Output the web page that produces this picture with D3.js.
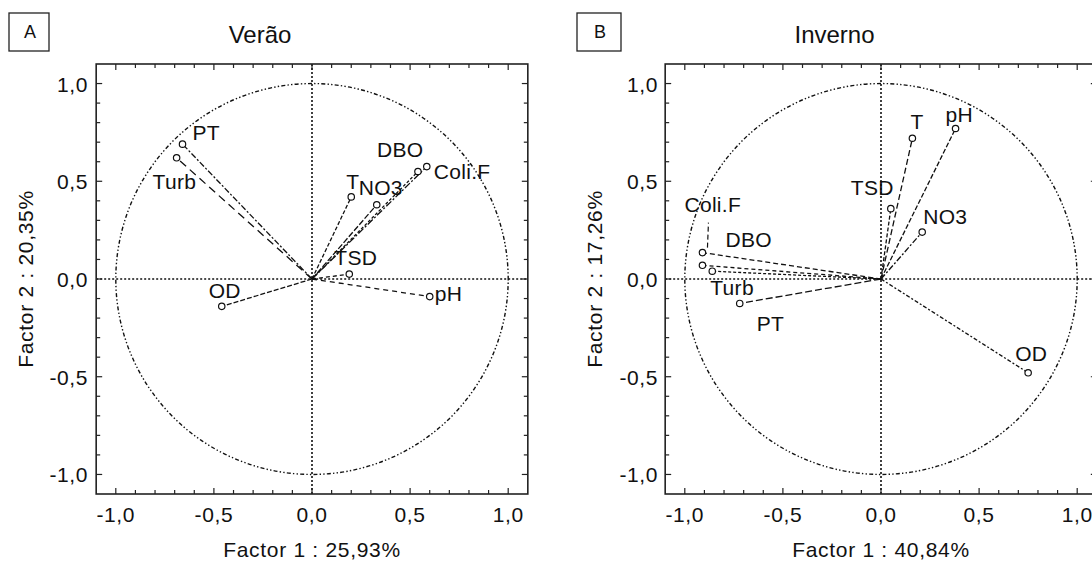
<!DOCTYPE html>
<html><head><meta charset="utf-8">
<script src="https://cdn.jsdelivr.net/npm/d3@7"></script>
<style>
html,body{margin:0;padding:0;background:#fff;}
text{font-family:"Liberation Sans",Arial,sans-serif;fill:#111;}
</style></head>
<body>
<svg id="chart" width="1092" height="561"></svg>
<script>
// ---- data ----
const variablesA = ["PT","Turb","T","NO3","DBO","Coli.F","TSD","pH","OD"];
const factor1A   = [-0.66,-0.69,0.20,0.33,0.54,0.585,0.19,0.60,-0.46];
const factor2A   = [ 0.69, 0.62,0.42,0.38,0.55,0.575,0.025,-0.09,-0.14];

const variablesB = ["T","pH","TSD","NO3","Coli.F","DBO","Turb","PT","OD"];
const factor1B   = [0.16,0.38,0.05,0.21,-0.91,-0.91,-0.86,-0.72,0.75];
const factor2B   = [0.72,0.77,0.36,0.24,0.135,0.07,0.04,-0.125,-0.48];

const tickValues = [-1.0,-0.5,0.0,0.5,1.0];
const tickLabels = ["-1,0","-0,5","0,0","0,5","1,0"];
const minorTicks = d3.range(-10,11).map(i=>i/10);

const panels = [
  {letter:"A", title:"Verão",   xTitle:"Factor 1 : 25,93%", yTitle:"Factor 2 : 20,35%",
   names:variablesA, f1:factor1A, f2:factor2A,
   cx:312, titleX:260, boxX:9, boxW:40, yTitleX:33, yTickX:88,
   dashes:{"PT":"6,2,2,2","Turb":"8,5","T":"4,2","NO3":"6,2","DBO":"3,2","Coli.F":"7,2,2,2","TSD":"4,3","pH":"5,4","OD":"5,2"},
   offsets:{"PT":[10,-4],"Turb":[-24,31],"T":[-5,-8],"NO3":[-18,-10],"DBO":[-41,-15],"Coli.F":[7,12],"TSD":[-15,-9],"pH":[5,4],"OD":[-13,-8]}},
  {letter:"B", title:"Inverno", xTitle:"Factor 1 : 40,84%", yTitle:"Factor 2 : 17,26%",
   names:variablesB, f1:factor1B, f2:factor2B,
   cx:881, titleX:834.5, boxX:577, boxW:44, yTitleX:602, yTickX:658,
   dashes:{"T":"6,3","pH":"5,2","TSD":"4,2","NO3":"6,2,2,2","Coli.F":"5,3","DBO":"4,3","Turb":"3,2","PT":"7,3","OD":"4,2,2,2"},
   offsets:{"T":[-2,-9],"pH":[-10,-7],"TSD":[-40,-14],"NO3":[1,-8],"Coli.F":[-18,-41],"DBO":[23,-18],"Turb":[-2,24],"PT":[17,28],"OD":[-13,-12]}}
];

const svg = d3.select("#chart");
const plotTop = 64, plotBottom = 494;
const unitX = 196.2;

panels.forEach(p=>{
  const x = d3.scaleLinear().domain([-1.1,1.1]).range([p.cx-1.1*unitX, p.cx+1.1*unitX]);
  const y = d3.scaleLinear().domain([-1.1,1.1]).range([plotBottom, plotTop]);
  const g = svg.append("g");

  // letter box
  g.append("rect").attr("x",p.boxX).attr("y",13).attr("width",p.boxW).attr("height",38)
    .attr("fill","none").attr("stroke","#222").attr("stroke-width",1.3);
  g.append("text").attr("x",p.boxX+p.boxW/2+1).attr("y",38).attr("text-anchor","middle")
    .attr("font-size",18).text(p.letter);
  // title
  g.append("text").attr("x",p.titleX).attr("y",43).attr("text-anchor","middle")
    .attr("font-size",24).text(p.title);

  // clip for content
  const clipId = "clip"+p.letter;
  svg.append("clipPath").attr("id",clipId).append("rect")
    .attr("x",x(-1.1)).attr("y",y(1.1)).attr("width",x(1.1)-x(-1.1)).attr("height",y(-1.1)-y(1.1));
  const c = g.append("g").attr("clip-path",`url(#${clipId})`);

  // unit circle
  c.append("ellipse").attr("cx",x(0)).attr("cy",y(0))
    .attr("rx",x(1)-x(0)).attr("ry",y(0)-y(1))
    .attr("fill","none").attr("stroke","#111").attr("stroke-width",1.4)
    .attr("stroke-dasharray","1.4,2.2,1.4,2.2,4,2.2");
  // zero lines
  c.append("line").attr("x1",x(-1.1)).attr("x2",x(1.1)).attr("y1",y(0)).attr("y2",y(0))
    .attr("stroke","#111").attr("stroke-width",1.6).attr("stroke-dasharray","2,2");
  c.append("line").attr("y1",y(-1.1)).attr("y2",y(1.1)).attr("x1",x(0)).attr("x2",x(0))
    .attr("stroke","#111").attr("stroke-width",1.6).attr("stroke-dasharray","2,2");

  // vectors
  p.names.forEach((n,i)=>{
    c.append("line").attr("x1",x(0)).attr("y1",y(0)).attr("x2",x(p.f1[i])).attr("y2",y(p.f2[i]))
      .attr("stroke","#111").attr("stroke-width",1.3).attr("stroke-dasharray",p.dashes[n]);
  });
  // leader line for Coli.F in panel B
  if(p.letter==="B"){
    const i = p.names.indexOf("Coli.F");
    c.append("line").attr("x1",x(p.f1[i])+5).attr("y1",y(p.f2[i])-5)
      .attr("x2",x(p.f1[i])+6).attr("y2",y(p.f2[i])-30)
      .attr("stroke","#111").attr("stroke-width",1.2).attr("stroke-dasharray","5,3");
  }
  p.names.forEach((n,i)=>{
    c.append("circle").attr("cx",x(p.f1[i])).attr("cy",y(p.f2[i])).attr("r",3.2)
      .attr("fill","#fff").attr("stroke","#111").attr("stroke-width",1.2);
  });
  p.names.forEach((n,i)=>{
    const o = p.offsets[n];
    c.append("text").attr("x",x(p.f1[i])+o[0]).attr("y",y(p.f2[i])+o[1])
      .attr("font-size",21).attr("letter-spacing",0.3).text(n);
  });

  // frame
  g.append("rect").attr("x",x(-1.1)).attr("y",y(1.1)).attr("width",x(1.1)-x(-1.1)).attr("height",y(-1.1)-y(1.1))
    .attr("fill","none").attr("stroke","#222").attr("stroke-width",1.6);

  // ticks on all sides (inward)
  const tk = g.append("g").attr("stroke","#222").attr("stroke-width",1.2);
  minorTicks.forEach(v=>{
    const major = Math.abs(v*2 - Math.round(v*2))<1e-9;
    const L = major?6:4;
    tk.append("line").attr("x1",x(v)).attr("x2",x(v)).attr("y1",y(-1.1)).attr("y2",y(-1.1)-L);
    tk.append("line").attr("x1",x(v)).attr("x2",x(v)).attr("y1",y(1.1)).attr("y2",y(1.1)+L);
    tk.append("line").attr("y1",y(v)).attr("y2",y(v)).attr("x1",x(-1.1)).attr("x2",x(-1.1)+L);
    tk.append("line").attr("y1",y(v)).attr("y2",y(v)).attr("x1",x(1.1)).attr("x2",x(1.1)-L);
  });

  // tick labels
  tickValues.forEach((v,i)=>{
    g.append("text").attr("x",x(v)).attr("y",522).attr("text-anchor","middle")
      .attr("font-size",21).attr("letter-spacing",0.6).text(tickLabels[i]);
    g.append("text").attr("x",p.yTickX).attr("y",y(v)+8).attr("text-anchor","end")
      .attr("font-size",21).attr("letter-spacing",0.6).text(tickLabels[i]);
  });

  // axis titles
  g.append("text").attr("x",x(0)).attr("y",557).attr("text-anchor","middle")
    .attr("font-size",21).attr("letter-spacing",0.7).text(p.xTitle);
  g.append("text").attr("transform",`translate(${p.yTitleX},${y(0)}) rotate(-90)`)
    .attr("text-anchor","middle").attr("font-size",21).attr("letter-spacing",0.7).text(p.yTitle);
});
</script>
</body></html>
